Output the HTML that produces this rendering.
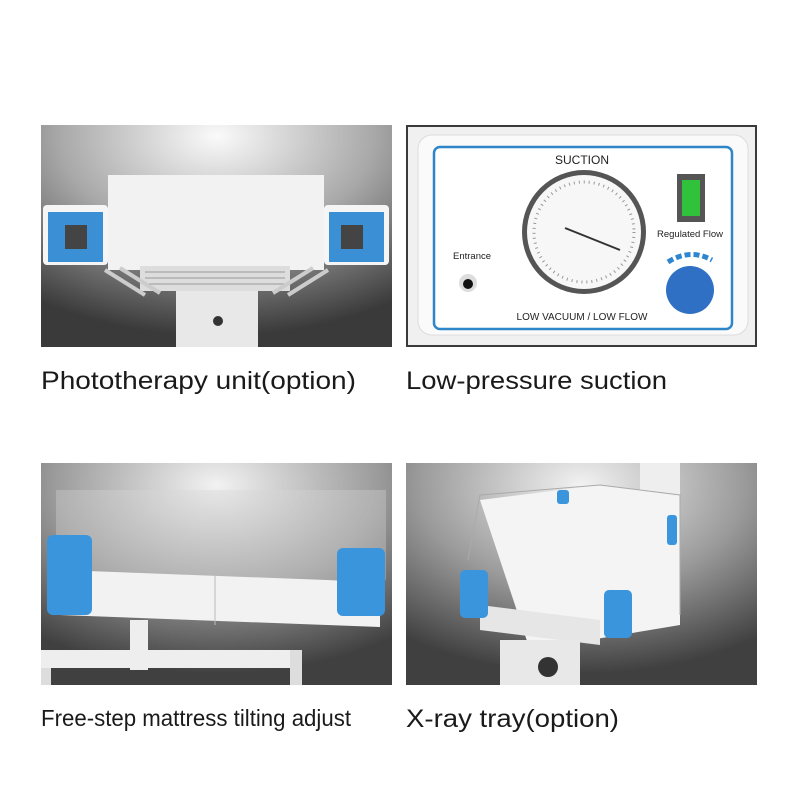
<!DOCTYPE html>
<html><head><style>html,body{margin:0;padding:0;background:#fff}svg{display:block}</style></head>
<body>
<svg width="800" height="800" viewBox="0 0 800 800" xmlns="http://www.w3.org/2000/svg">
<defs>
<radialGradient id="bg" cx="0.5" cy="0.05" r="0.9">
<stop offset="0" stop-color="#fafafa"/><stop offset="0.5" stop-color="#a8a8a8"/><stop offset="1" stop-color="#3a3a3a"/>
</radialGradient>
<radialGradient id="bg2" cx="0.5" cy="0.1" r="0.85">
<stop offset="0" stop-color="#f2f2f2"/><stop offset="0.55" stop-color="#9a9a9a"/><stop offset="1" stop-color="#404040"/>
</radialGradient>
</defs>
<rect width="800" height="800" fill="#fff"/>

<!-- TL phototherapy -->
<rect x="41" y="125" width="351" height="222" fill="url(#bg)"/>
<rect x="176" y="256" width="82" height="91" fill="#e8e8e8"/>
<circle cx="218" cy="321" r="5" fill="#333"/>
<rect x="108" y="175" width="216" height="95" fill="#f2f2f2"/>
<rect x="140" y="266" width="150" height="25" fill="#ddd"/>
<path d="M145 272h140M145 278h140M145 284h140" stroke="#999" stroke-width="1"/>
<rect x="43" y="205" width="65" height="60" rx="4" fill="#f5f5f5"/>
<rect x="48" y="212" width="55" height="50" fill="#3b8fd4"/>
<rect x="65" y="225" width="22" height="24" fill="#444"/>
<rect x="324" y="205" width="65" height="60" rx="4" fill="#f5f5f5"/>
<rect x="329" y="212" width="55" height="50" fill="#3b8fd4"/>
<rect x="341" y="225" width="22" height="24" fill="#444"/>
<path d="M105 270l40 25M120 268l40 25M328 270l-40 25M313 268l-40 25" stroke="#ccc" stroke-width="4"/>

<!-- TR suction -->
<rect x="406" y="125" width="351" height="222" fill="#3a3a3a"/>
<rect x="408" y="127" width="347" height="218" fill="#f0f0f0"/>
<rect x="418" y="135" width="330" height="200" rx="14" fill="#fafafa" stroke="#ddd"/>
<rect x="434" y="147" width="298" height="182" rx="6" fill="#fff" stroke="#2e86c8" stroke-width="2.5"/>
<text x="582" y="164" font-family="Liberation Sans, sans-serif" font-size="12" text-anchor="middle" fill="#222">SUCTION</text>
<circle cx="584" cy="232" r="62" fill="#555"/>
<circle cx="584" cy="232" r="57" fill="#f7f7f7"/>
<circle cx="584" cy="232" r="50" fill="none" stroke="#999" stroke-width="3" stroke-dasharray="1 4"/>
<line x1="565" y1="228" x2="620" y2="250" stroke="#333" stroke-width="2"/>
<text x="582" y="320" font-family="Liberation Sans, sans-serif" font-size="10" text-anchor="middle" fill="#222">LOW VACUUM / LOW FLOW</text>
<text x="472" y="259" font-family="Liberation Sans, sans-serif" font-size="9.5" text-anchor="middle" fill="#222">Entrance</text>
<circle cx="468" cy="283" r="9" fill="#ddd"/><circle cx="468" cy="284" r="5" fill="#111"/>
<rect x="677" y="174" width="28" height="48" fill="#555"/>
<rect x="682" y="180" width="18" height="36" fill="#2fc23a"/>
<text x="690" y="237" font-family="Liberation Sans, sans-serif" font-size="9.5" text-anchor="middle" fill="#222">Regulated Flow</text>
<circle cx="690" cy="290" r="24" fill="#2f6fc4"/>
<path d="M668 262 q22 -14 44 -2" stroke="#2f86d0" stroke-width="5" fill="none" stroke-dasharray="6 3"/>

<!-- BL mattress -->
<rect x="41" y="463" width="351" height="222" fill="url(#bg2)"/>
<rect x="56" y="490" width="330" height="90" fill="#d8d8d8" opacity="0.35"/>
<path d="M60 570l320 12v45l-320 -12z" fill="#f2f2f2"/>
<line x1="215" y1="575" x2="215" y2="625" stroke="#bbb"/>
<rect x="130" y="620" width="18" height="50" fill="#eee"/>
<rect x="41" y="650" width="260" height="18" fill="#eee"/>
<rect x="41" y="668" width="10" height="17" fill="#ddd"/><rect x="290" y="650" width="12" height="35" fill="#ddd"/>
<rect x="47" y="535" width="45" height="80" rx="6" fill="#3a95dc"/>
<rect x="337" y="548" width="48" height="68" rx="6" fill="#3a95dc"/>

<!-- BR x-ray -->
<rect x="406" y="463" width="351" height="222" fill="url(#bg2)"/>
<rect x="640" y="463" width="40" height="120" fill="#eee"/>
<path d="M480 500l120 -15 80 10v130l-150 25z" fill="#f4f4f4"/>
<path d="M468 560l12 -65 120 -10 80 10v120" fill="none" stroke="#aaa"/>
<path d="M480 605l120 15v25l-120 -15z" fill="#e6e6e6"/>
<rect x="500" y="640" width="80" height="45" fill="#e8e8e8"/>
<circle cx="548" cy="667" r="10" fill="#333"/>
<rect x="460" y="570" width="28" height="48" rx="5" fill="#3a95dc"/>
<rect x="604" y="590" width="28" height="48" rx="5" fill="#3a95dc"/>
<rect x="557" y="490" width="12" height="14" rx="3" fill="#3a95dc"/>
<rect x="667" y="515" width="10" height="30" rx="3" fill="#3a95dc"/>

<g font-family="Liberation Sans, sans-serif" fill="#1a1a1a">
<text x="41" y="389" font-size="25" textLength="315" lengthAdjust="spacingAndGlyphs">Phototherapy unit(option)</text>
<text x="406" y="389" font-size="25" textLength="261" lengthAdjust="spacingAndGlyphs">Low-pressure suction</text>
<text x="41" y="726" font-size="23" textLength="310" lengthAdjust="spacingAndGlyphs">Free-step mattress tilting adjust</text>
<text x="406" y="727" font-size="25" textLength="213" lengthAdjust="spacingAndGlyphs">X-ray tray(option)</text>
</g>
</svg>
</body></html>
